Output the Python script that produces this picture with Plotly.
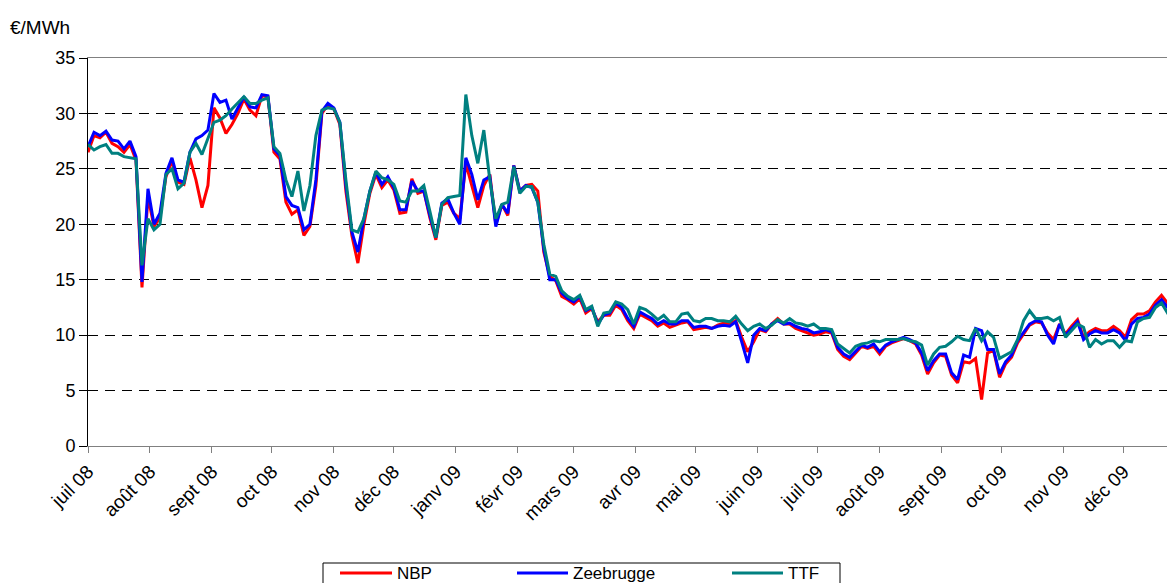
import pandas as pd
import plotly.graph_objects as go

# one reading every 3 days, starting 1 July 2008
dates = pd.date_range("2008-07-01", periods=182, freq="3D")

nbp = [
    # juil 08
    26.5, 28.0, 27.8, 28.3, 27.3, 27.0, 26.5, 27.2, 25.8, 14.3, 22.5,
    # août 08
    19.8, 20.6, 24.3, 25.7, 23.8, 23.6, 26.0, 24.0, 21.5, 23.5,
    # sept 08
    30.5, 29.6, 28.2, 29.0, 30.0, 31.3, 30.3, 29.8, 31.6, 31.5,
    # oct 08
    26.5, 25.9, 22.0, 20.9, 21.3, 19.0, 19.8, 23.5, 30.0, 30.8,
    # nov 08
    30.4, 29.0, 23.0, 19.0, 16.5, 20.0, 22.8, 24.5, 23.3, 24.0,
    # déc 08
    23.1, 21.0, 21.1, 24.1, 22.8, 23.0, 20.6, 18.6, 21.7, 22.0,
    # janv 09
    21.0, 20.5, 25.5, 23.5, 21.5, 23.5, 24.5, 20.0, 21.8, 20.8,
    # févr 09
    25.3, 23.0, 23.5, 23.6, 23.0, 17.5, 15.3, 14.9, 13.5, 13.2,
    # mars 09
    12.8, 13.3, 12.0, 12.4, 11.2, 11.8, 11.8, 12.7, 12.3, 11.3, 10.6,
    # avr 09
    11.9, 11.6, 11.3, 10.8, 11.1, 10.7, 10.9, 11.1, 11.2, 10.5,
    # mai 09
    10.6, 10.7, 10.6, 10.9, 11.1, 11.0, 11.3, 9.8, 8.5, 9.4,
    # juin 09
    10.5, 10.3, 11.0, 11.5, 11.0, 11.0, 10.6, 10.4, 10.2, 10.0,
    # juil 09
    10.1, 10.3, 10.2, 8.7, 8.1, 7.8, 8.4, 9.0, 8.8, 9.0,
    # août 09
    8.3, 9.0, 9.3, 9.5, 9.7, 9.5, 9.2, 8.2, 6.5, 7.5, 8.2,
    # sept 09
    8.1, 6.4, 5.7, 7.6, 7.5, 7.9, 4.2, 8.4, 8.6, 6.2,
    # oct 09
    7.4, 8.0, 9.3, 10.1, 10.9, 11.2, 11.1, 10.2, 9.6, 11.0,
    # nov 09
    10.1, 10.8, 11.4, 9.8, 10.3, 10.6, 10.4, 10.4, 10.8, 10.4,
    # déc 09
    9.8, 11.4, 11.9, 11.9, 12.2, 13.0, 13.6, 12.9, 13.1,
]

zeebrugge = [
    27.0, 28.3, 28.0, 28.4, 27.6, 27.5, 26.8, 27.5, 26.1, 14.8, 23.2,
    20.0, 21.0, 24.6, 26.0, 24.0, 23.8, 26.5, 27.7, 28.0, 28.5,
    31.8, 31.0, 31.2, 29.5, 30.5, 31.5, 30.6, 30.5, 31.7, 31.6,
    26.8, 26.2, 22.5, 21.7, 21.5, 19.5, 20.0, 24.0, 30.2, 30.9,
    30.5, 29.2, 23.5, 19.3, 17.5, 20.5, 23.0, 24.7, 23.6, 24.3,
    23.3, 21.3, 21.3, 23.9, 23.0, 23.0, 20.8, 18.8, 21.9, 22.3,
    21.0, 20.0, 26.0, 24.5, 22.2, 24.0, 24.3, 19.8, 21.8, 21.0,
    25.3, 23.0, 23.5, 23.3, 22.0, 17.8, 15.0, 15.0, 13.8, 13.3,
    13.0, 13.5, 12.2, 12.5, 11.0, 11.8, 12.0, 12.9, 12.5, 11.5, 10.8,
    12.1, 11.8, 11.5, 11.0, 11.3, 11.0, 11.0, 11.3, 11.3, 10.7,
    10.8, 10.8, 10.6, 10.8, 10.9, 10.8, 11.2, 9.4, 7.5, 10.0,
    10.6, 10.4, 11.0, 11.3, 11.0, 11.1, 10.8, 10.6, 10.5, 10.2,
    10.3, 10.5, 10.3, 8.9, 8.3, 8.0, 8.6, 9.1, 8.9, 9.2,
    8.5, 9.1, 9.4, 9.6, 9.8, 9.6, 9.3, 8.4, 6.8, 7.7, 8.3,
    8.3, 6.6, 6.0, 8.2, 8.0, 10.6, 10.4, 8.7, 8.7, 6.5,
    7.6, 8.2, 9.5, 10.3, 11.0, 11.3, 11.2, 10.0, 9.2, 11.0,
    10.0, 10.6, 11.2, 9.6, 10.1, 10.4, 10.2, 10.2, 10.5, 10.2,
    9.5, 11.0, 11.5, 11.6, 11.9, 12.7, 13.2, 12.5, 12.8,
]

ttf = [
    27.2, 26.7, 27.0, 27.2, 26.4, 26.4, 26.1, 26.0, 25.9, 16.3, 20.5,
    19.5, 20.0, 24.5, 25.0, 23.2, 23.7, 26.5, 27.3, 26.3, 27.8,
    29.2, 29.4, 29.8, 30.4, 31.0, 31.5, 30.9, 30.9, 31.2, 31.4,
    27.0, 26.4, 24.0, 22.5, 24.8, 21.2, 23.5, 28.0, 30.3, 30.5,
    30.4, 29.2, 24.0, 19.5, 19.3, 20.5, 23.0, 24.8, 24.2, 24.0,
    23.6, 22.1, 22.0, 23.0, 23.0, 23.5, 21.2, 18.8, 21.8, 22.4,
    22.5, 22.6, 31.7, 28.0, 25.5, 28.5, 24.0, 20.5, 21.8, 22.0,
    25.2, 22.8, 23.4, 23.4, 22.0, 18.2, 15.5, 15.3, 14.0, 13.5,
    13.2, 13.6, 12.3, 12.6, 10.8, 12.0, 12.1, 13.0, 12.8, 12.3, 11.0,
    12.5, 12.3, 11.9, 11.4, 11.8, 11.2, 11.2, 11.9, 12.0, 11.3,
    11.2, 11.5, 11.5, 11.3, 11.3, 11.2, 11.7, 11.0, 10.4, 10.8,
    11.0, 10.6, 10.9, 11.4, 11.1, 11.5, 11.1, 11.0, 10.8, 11.0,
    10.6, 10.6, 10.5, 9.2, 8.8, 8.4, 9.0, 9.2, 9.3, 9.5,
    9.4, 9.6, 9.6, 9.6, 9.7, 9.5, 9.4, 9.1, 7.3, 8.3, 8.9,
    9.0, 9.4, 9.9, 9.6, 9.5, 10.6, 9.5, 10.3, 9.8, 7.9,
    8.2, 8.5, 9.6, 11.3, 12.2, 11.5, 11.5, 11.6, 11.3, 11.6,
    9.8, 10.4, 11.0, 10.7, 8.9, 9.6, 9.2, 9.5, 9.5, 8.9,
    9.5, 9.4, 11.2, 11.5, 11.6, 12.5, 12.9, 12.0, 12.3,
]

month_ticks = pd.date_range("2008-07-01", "2009-12-01", freq="MS")
month_labels = ["juil 08", "août 08", "sept 08", "oct 08", "nov 08", "déc 08",
                "janv 09", "févr 09", "mars 09", "avr 09", "mai 09", "juin 09",
                "juil 09", "août 09", "sept 09", "oct 09", "nov 09", "déc 09"]

series = [("NBP", nbp, "#FF0000"),
          ("Zeebrugge", zeebrugge, "#0000FF"),
          ("TTF", ttf, "#008080")]

fig = go.Figure()
for name, vals, col in series:
    fig.add_trace(go.Scatter(x=dates, y=vals, name=name, mode="lines",
                             line=dict(color=col, width=3)))

FONT = "Liberation Sans, Arial, sans-serif"
# the page adds an 8px body margin, so the figure is 8px smaller
OFF = 8
X0, X1, Y0, Y1 = 88, 1175, 58, 446      # plot area in page pixels
W, H = 1175 - OFF, 583 - OFF


def px(x):
    return (x - X0) / (X1 - X0)


def py(y):
    return (Y1 - y) / (Y1 - Y0)


fig.update_layout(
    width=W, height=H,
    margin=dict(l=X0 - OFF, r=0, t=Y0 - OFF, b=583 - Y1),
    plot_bgcolor="white", paper_bgcolor="white",
    showlegend=False,
    font=dict(family=FONT, size=18, color="black"),
)
fig.update_xaxes(
    range=["2008-07-01", "2009-12-26 18:00"],
    tickvals=month_ticks, ticktext=month_labels, tickangle=-45,
    ticks="outside", ticklen=6, tickcolor="#808080",
    tickfont=dict(size=19),
    showline=True, linecolor="#808080", linewidth=1, mirror=True,
    showgrid=False, zeroline=False,
)
fig.update_yaxes(
    range=[0, 35], dtick=5, ticks="outside", ticklen=8, tickcolor="black",
    showline=True, linecolor="black", linewidth=1,
    showgrid=True, gridcolor="black", gridwidth=1, griddash="10px,7px",
    zeroline=False,
)

fig.add_annotation(text="€/MWh", xref="paper", yref="paper",
                   x=px(OFF), y=py(27), xanchor="left", yanchor="middle",
                   showarrow=False, font=dict(size=19))

# legend box drawn by hand, as in the original
fig.add_shape(type="rect", xref="paper", yref="paper",
              x0=px(323), x1=px(840), y0=py(600), y1=py(563),
              line=dict(color="black", width=1), fillcolor="white")
leg = [(340, 392, 395), (517, 568, 571), (732, 783, 786)]
for (x0, x1, tx), (name, _, col) in zip(leg, series):
    fig.add_shape(type="line", xref="paper", yref="paper",
                  x0=px(x0), x1=px(x1), y0=py(573), y1=py(573),
                  line=dict(color=col, width=3))
    fig.add_annotation(text=name, xref="paper", yref="paper",
                       x=px(tx), y=py(573), xanchor="left", yanchor="middle",
                       showarrow=False, font=dict(size=17))

fig.write_html("out.html")
